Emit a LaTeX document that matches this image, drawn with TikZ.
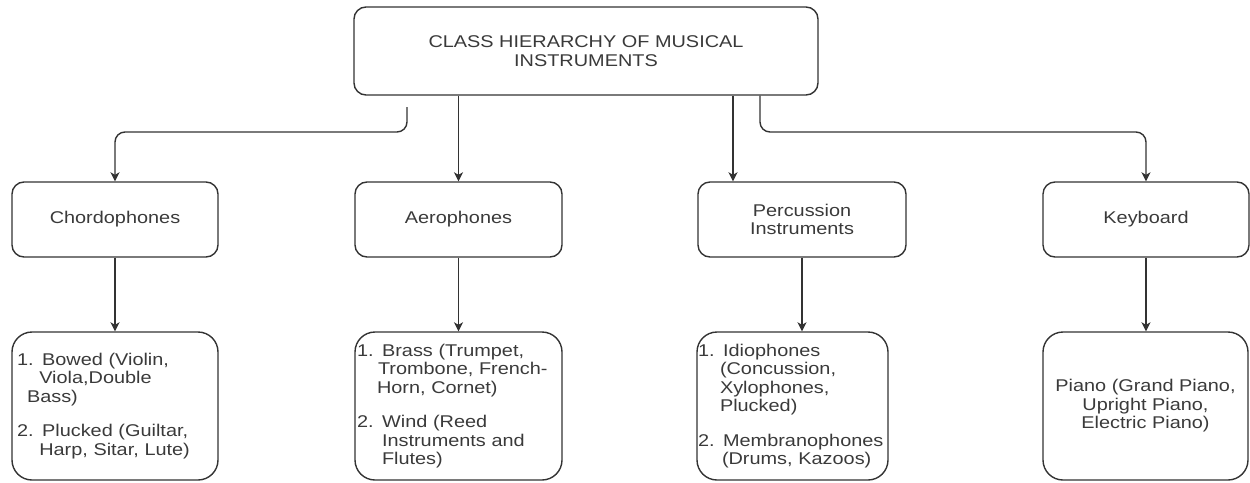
\documentclass[tikz,border=0pt]{standalone}
\usepackage{fontspec}
\setmainfont[FakeStretch=1.17]{Liberation Sans}
\usetikzlibrary{arrows.meta}
\definecolor{ink}{HTML}{333333}
\definecolor{txt}{HTML}{3A3A3A}
\begin{document}
\begin{tikzpicture}[x=1pt,y=-1pt,
  box/.style={draw=ink,line width=1.4pt,rounded corners=12pt,text=txt,align=center,
    font=\fontsize{17}{18.5}\selectfont,inner sep=0pt},
  leaf/.style={draw=ink,line width=1.4pt,rounded corners=20pt,text=txt,align=left,
    font=\fontsize{17}{18.5}\selectfont,inner ysep=0pt,minimum height=148pt},
  conn/.style={draw=ink,line width=1.4pt,rounded corners=10pt,
    -{Stealth[length=9pt,width=9pt,inset=2.5pt]}}]
\useasboundingbox (0,0) rectangle (1250,482);

\node[box,minimum width=464pt,minimum height=88pt] (top) at (586,51)
  {CLASS HIERARCHY OF MUSICAL\\INSTRUMENTS};

\node[box,minimum width=206pt,minimum height=75pt] (chord) at (115,219.5) {Chordophones};
\node[box,minimum width=207pt,minimum height=75pt] (aero) at (458.5,219.5) {Aerophones};
\node[box,minimum width=208pt,minimum height=75pt] (perc) at (802,219.5) {Percussion\\Instruments};
\node[box,minimum width=206pt,minimum height=75pt] (keyb) at (1146,219.5) {Keyboard};

\node[leaf,text width=196pt,inner xsep=5pt] (b1) at (115,406)
  {1. Bowed (Violin,\\
   \hphantom{1.~}Viola,Double\\
   \hspace*{10pt}Bass)\\[16pt]
   2. Plucked (Guiltar,\\
   \hphantom{2.~}Harp, Sitar, Lute)};
\node[leaf,text width=203pt,inner xsep=2pt] (b2) at (458.5,406)
  {1. Brass (Trumpet,\\
   \hspace*{21pt}Trombone, French-\\
   \hspace*{20pt}Horn, Cornet)\\[16pt]
   2. Wind (Reed\\
   \hspace*{25pt}Instruments and\\
   \hspace*{25pt}Flutes)};
\node[leaf,text width=189pt,inner xsep=1pt] (b3) at (792.5,406)
  {1. Idiophones\\
   \hspace*{22pt}(Concussion,\\
   \hspace*{22pt}Xylophones,\\
   \hspace*{22pt}Plucked)\\[16pt]
   2. Membranophones\\
   \hspace*{24pt}(Drums, Kazoos)};
\node[leaf,align=center,minimum width=205pt] (b4) at (1145.5,406)
  {Piano (Grand Piano,\\Upright Piano,\\Electric Piano)};

\coordinate (lstart) at (407,107);
\coordinate (lbend) at (407,132);
\coordinate (pc) at (733,0);
\coordinate (rbend) at (760,132);

\draw[conn] (lstart) -- (lbend) -| (chord.north);
\draw[conn] (top.south -| aero.north) -- (aero.north);
\draw[conn] (top.south -| pc) -- (perc.north -| pc);
\draw[conn] (top.south -| rbend) -- (rbend) -| (keyb.north);

\draw[conn] (chord.south) -- (b1.north -| chord.south);
\draw[conn] (aero.south) -- (b2.north -| aero.south);
\draw[conn] (perc.south) -- (b3.north -| perc.south);
\draw[conn] (keyb.south) -- (b4.north -| keyb.south);
\end{tikzpicture}
\end{document}
